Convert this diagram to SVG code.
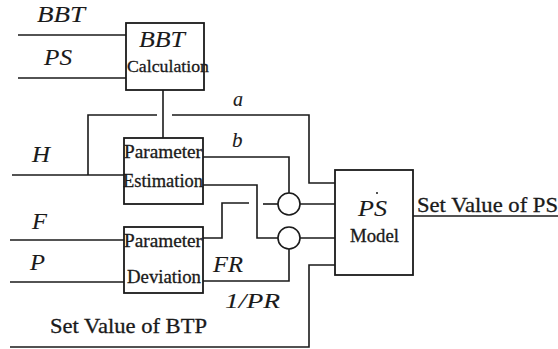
<svg xmlns="http://www.w3.org/2000/svg" width="558" height="349" viewBox="0 0 558 349">
<style>
.ln{fill:none;stroke:#1a1a1a;stroke-width:1.6}
.bx{fill:#fff;stroke:#1a1a1a;stroke-width:1.8}
.t{font-family:"Liberation Serif","Times New Roman",serif;fill:#1a1a1a;stroke:#1a1a1a;stroke-width:0.3}
.it{font-style:italic;stroke-width:0.1}
</style>
<rect width="558" height="349" fill="#fff"/>
<g id="connectors">
<path class="ln" d="M18 35H126"/>
<path class="ln" d="M18 78H126"/>
<path class="ln" d="M163 90V138"/>
<path class="ln" d="M88 175V115H157"/>
<path class="ln" d="M172 115H309V183H335"/>
<path class="ln" d="M12 175H124"/>
<path class="ln" d="M203 157H289V193"/>
<path class="ln" d="M203 185H257V238H278"/>
<path class="ln" d="M10 240H124"/>
<path class="ln" d="M10 282H124"/>
<path class="ln" d="M203 238H222V203H249"/>
<path class="ln" d="M263 204H278"/>
<path class="ln" d="M300 204H335"/>
<path class="ln" d="M300 238H335"/>
<path class="ln" d="M203 281H289V249"/>
<path class="ln" d="M10 347H309V265H335"/>
<path class="ln" d="M413 216H558"/>
<circle class="ln" cx="289" cy="204" r="11"/>
<circle class="ln" cx="289" cy="238" r="11"/>
</g>
<g id="n-bbt-calc">
<rect class="bx" x="126" y="23" width="78" height="67"/>
<text class="t it" x="139" y="47" font-size="23" textLength="46" lengthAdjust="spacingAndGlyphs">BBT</text>
<text class="t" x="127" y="72" font-size="17" textLength="82" lengthAdjust="spacingAndGlyphs">Calculation</text>
</g>
<g id="n-param-est">
<rect class="bx" x="124" y="138" width="79" height="66"/>
<text class="t" x="124" y="158" font-size="18" textLength="78" lengthAdjust="spacingAndGlyphs">Parameter</text>
<text class="t" x="123" y="187" font-size="18" textLength="80" lengthAdjust="spacingAndGlyphs">Estimation</text>
</g>
<g id="n-param-dev">
<rect class="bx" x="124" y="227" width="79" height="66"/>
<text class="t" x="124" y="247" font-size="18" textLength="78" lengthAdjust="spacingAndGlyphs">Parameter</text>
<text class="t" x="127" y="283" font-size="18" textLength="74" lengthAdjust="spacingAndGlyphs">Deviation</text>
</g>
<g id="n-ps-model">
<rect class="bx" x="335" y="170" width="78" height="105"/>
<text class="t it" x="358" y="216" font-size="24" textLength="29" lengthAdjust="spacingAndGlyphs">PS</text>
<circle cx="377" cy="193" r="1" fill="#1a1a1a"/>
<text class="t" x="350" y="242" font-size="18" textLength="49" lengthAdjust="spacingAndGlyphs">Model</text>
</g>
<g id="labels">
<text class="t it" x="37" y="22" font-size="23" textLength="48" lengthAdjust="spacingAndGlyphs">BBT</text>
<text class="t it" x="44" y="65" font-size="23" textLength="28" lengthAdjust="spacingAndGlyphs">PS</text>
<text class="t it" x="233" y="106" font-size="20">a</text>
<text class="t it" x="32" y="162" font-size="23" textLength="18" lengthAdjust="spacingAndGlyphs">H</text>
<text class="t it" x="232" y="147" font-size="21">b</text>
<text class="t it" x="32" y="229" font-size="23" textLength="15" lengthAdjust="spacingAndGlyphs">F</text>
<text class="t it" x="30" y="270" font-size="23" textLength="15" lengthAdjust="spacingAndGlyphs">P</text>
<text class="t it" x="213" y="272" font-size="23" textLength="30" lengthAdjust="spacingAndGlyphs">FR</text>
<text class="t it" x="225" y="308" font-size="22" textLength="55" lengthAdjust="spacingAndGlyphs">1/PR</text>
<text class="t" x="50" y="333" font-size="21" textLength="157" lengthAdjust="spacingAndGlyphs">Set Value of BTP</text>
<text class="t" x="417" y="212" font-size="21" textLength="141" lengthAdjust="spacingAndGlyphs">Set Value of PS</text>
</g>
</svg>
